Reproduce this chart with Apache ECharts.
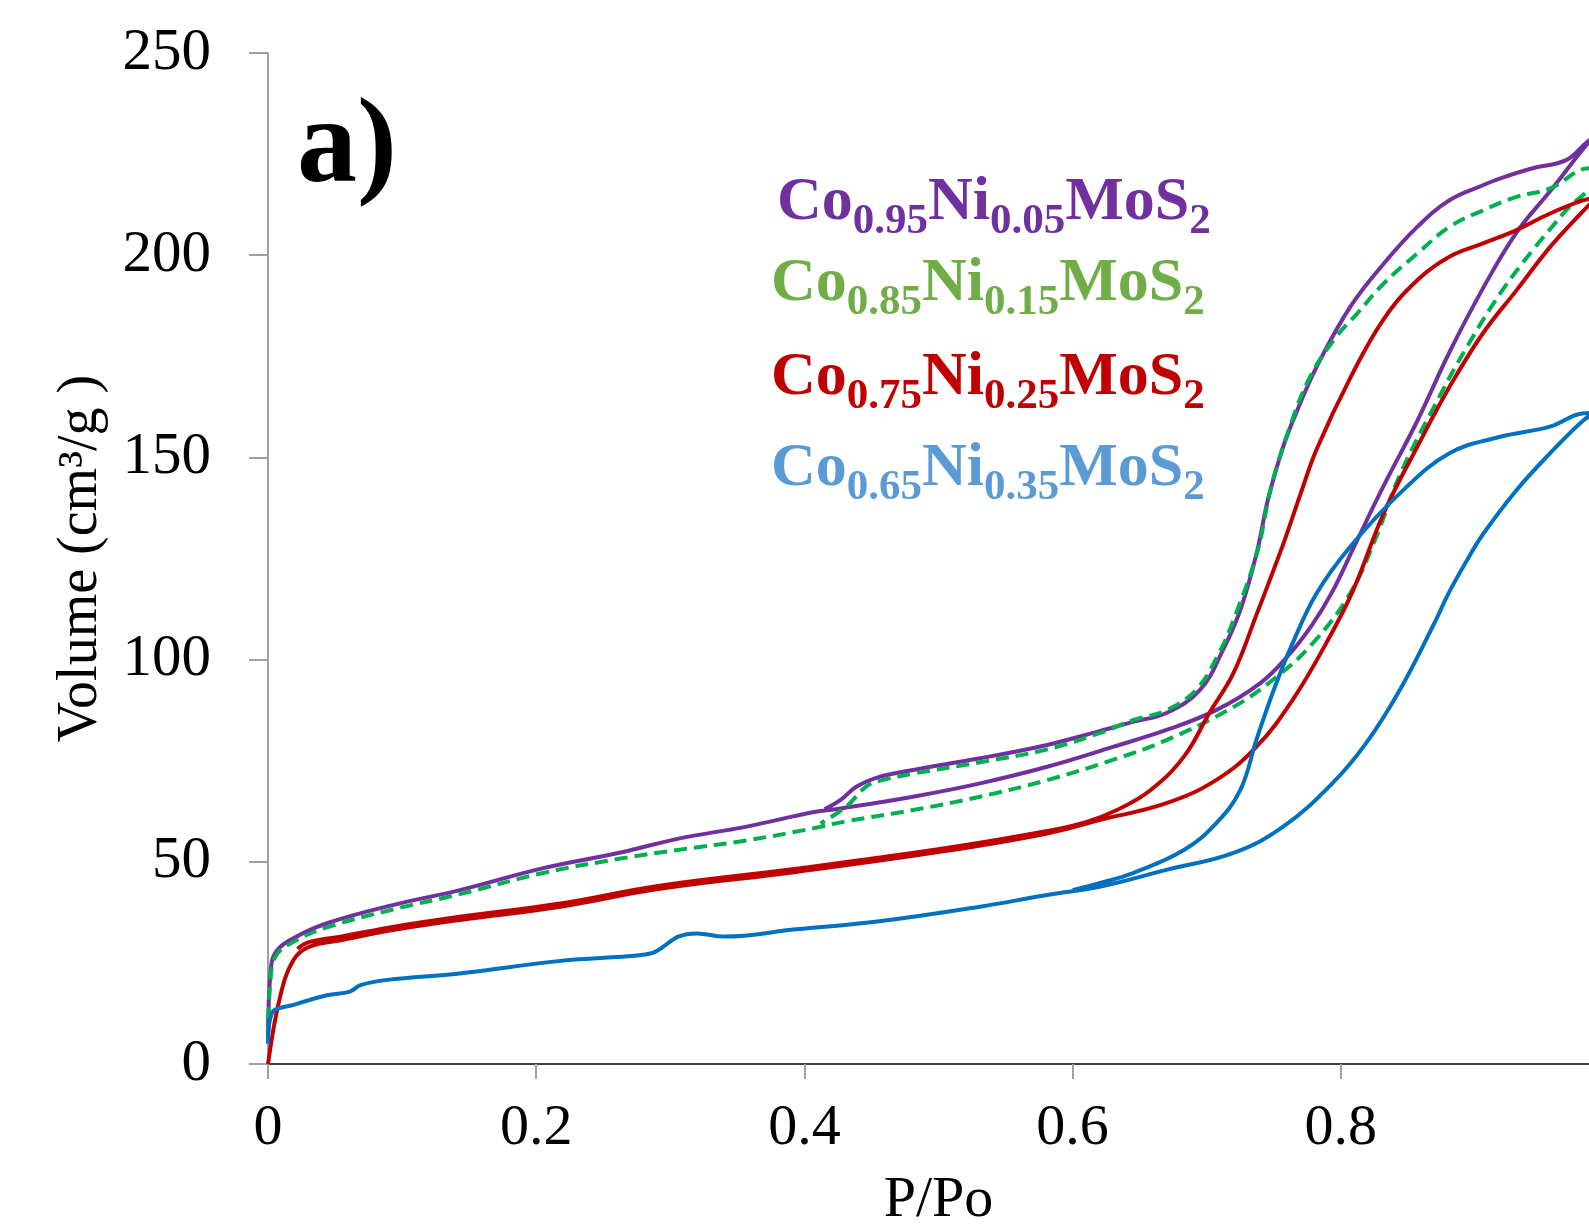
<!DOCTYPE html>
<html>
<head>
<meta charset="utf-8">
<title>isotherms</title>
<script src="https://cdn.jsdelivr.net/npm/echarts@6/dist/echarts.min.js"></script>
<style>
  html, body { margin: 0; padding: 0; background: #fff; overflow: hidden; }
  /* the original figure is cut off at the right edge, just past P/Po = 0.98 */
  #main { width: 1640px; height: 1225px; }
</style>
</head>
<body>
<div id="main"></div>
<script>
// axis ticks
var xTicks = [0, 0.2, 0.4, 0.6, 0.8, 1];
var yTicks = [0, 50, 100, 150, 200, 250];

var names = ['Co0.95Ni0.05MoS2', 'Co0.85Ni0.15MoS2', 'Co0.75Ni0.25MoS2', 'Co0.65Ni0.35MoS2'];

// Co0.95Ni0.05MoS2 (purple)
var purpleAds = [[0,7],[0.002,23],[0.006,27.8],[0.019,31.1],[0.044,34.8],[0.093,39.3],[0.143,43],[0.206,48.5],[0.263,52.3],[0.307,55.8],[0.357,58.7],[0.407,62.3],[0.427,63.2],[0.481,66.1],[0.531,69.4],[0.581,73.5],[0.630,78.4],[0.670,82.6],[0.707,87.5],[0.740,94.2],[0.760,100.7],[0.779,108.8],[0.794,117],[0.810,128],[0.832,143],[0.857,159],[0.881,176],[0.906,191.8],[0.931,205.6],[0.956,215.8],[0.983,227.2],[0.99,229.5]];
var purpleDes = [[0.983,227.8],[0.968,223.5],[0.943,221.5],[0.919,219],[0.906,217.3],[0.881,213.6],[0.857,207],[0.832,197.9],[0.807,187.2],[0.782,172.4],[0.768,162],[0.757,152.6],[0.746,140],[0.737,126],[0.725,112.2],[0.712,102.3],[0.695,92.5],[0.670,86.8],[0.645,84.6],[0.620,82.3],[0.581,78.9],[0.531,75.6],[0.481,72.7],[0.456,71],[0.439,68.6],[0.427,65.3],[0.415,63]];

// Co0.85Ni0.15MoS2 (green, dashed)
var greenAds = [[0,6],[0.002,21.5],[0.006,26.8],[0.019,30.2],[0.044,33.8],[0.093,38.2],[0.143,42],[0.206,47.3],[0.263,50.8],[0.307,53],[0.357,55.3],[0.407,58.3],[0.431,60],[0.481,62.8],[0.531,66.1],[0.581,70.2],[0.630,75.2],[0.670,80.1],[0.720,88.3],[0.752,95.7],[0.779,104],[0.807,116.4],[0.826,130],[0.844,145.6],[0.869,162.2],[0.894,177.3],[0.919,190.6],[0.943,201.2],[0.968,211.1],[0.99,219.5]];
var greenDes = [[0.985,221.5],[0.956,216.5],[0.931,214.4],[0.906,211.1],[0.881,207],[0.857,200.4],[0.832,193],[0.812,185.5],[0.797,180],[0.778,170.5],[0.763,158.5],[0.748,142.5],[0.738,127],[0.722,111.5],[0.709,101.5],[0.692,92.5],[0.670,87.5],[0.645,85],[0.620,81.8],[0.581,77.8],[0.531,74.6],[0.481,71.8],[0.456,70],[0.446,68.6],[0.431,63.6],[0.412,59.5]];

// Co0.75Ni0.25MoS2 (red)
var redAds = [[0,0],[0.009,16.6],[0.019,25.7],[0.031,29],[0.056,30.7],[0.093,33.1],[0.143,35.6],[0.218,38.9],[0.292,43.3],[0.394,47.5],[0.506,52.7],[0.581,57],[0.620,60.3],[0.670,64.5],[0.707,70.2],[0.737,78.4],[0.764,90],[0.789,104],[0.809,117],[0.832,136.2],[0.857,152.6],[0.881,167.4],[0.906,180.7],[0.931,191.3],[0.956,202],[0.981,211],[0.99,214]];
var redDes = [[0.981,213.6],[0.956,210.3],[0.931,206.2],[0.906,202.9],[0.881,199.6],[0.857,193.8],[0.832,184.2],[0.807,169.6],[0.782,152],[0.770,141],[0.757,128.5],[0.737,111],[0.720,96.7],[0.702,86.8],[0.683,76],[0.658,67.7],[0.633,62.8],[0.610,59.8],[0.581,57.6],[0.506,53.4],[0.394,48.3],[0.292,44.1],[0.218,39.7],[0.143,36.4],[0.093,33.9],[0.056,31.6],[0.031,30.2],[0.022,28.5]];

// Co0.65Ni0.35MoS2 (blue)
var blueAds = [[0,5],[0.003,12.6],[0.019,14.6],[0.044,17],[0.061,17.9],[0.069,19.5],[0.089,20.8],[0.143,22.4],[0.218,25.5],[0.277,26.9],[0.289,27.8],[0.306,31.5],[0.320,32.3],[0.340,31.5],[0.394,33.3],[0.456,35.3],[0.531,38.9],[0.581,41.8],[0.620,43.8],[0.670,48],[0.720,52.2],[0.757,58.7],[0.794,69.5],[0.819,79.4],[0.844,92.5],[0.869,108.5],[0.881,116.8],[0.894,124.5],[0.906,131],[0.931,141.9],[0.956,151],[0.981,159.2],[0.99,161]];
var blueDes = [[0.981,160.9],[0.956,157.6],[0.919,155.1],[0.881,151],[0.844,141.1],[0.807,127.9],[0.782,116.4],[0.764,104],[0.750,92.5],[0.737,80.1],[0.725,67.7],[0.707,59.5],[0.683,52.9],[0.645,47.2],[0.620,44.7],[0.600,43]];

var serif = 'Liberation Serif';

// rich text label: Co{a}Ni{b}MoS{2}
function formula(a, b) {
    return '{m|Co}{s|' + a + '}{m|Ni}{s|' + b + '}{m|MoS}{s|2}';
}
function legendText(top, left, a, b, color) {
    return {
        type: 'text',
        left: left,
        top: top,
        style: {
            text: formula(a, b),
            fill: color,
            rich: {
                m: { fontFamily: serif, fontWeight: 'bold', fontSize: 62, fill: color, verticalAlign: 'top' },
                s: { fontFamily: serif, fontWeight: 'bold', fontSize: 43, fill: color, verticalAlign: 'top', padding: [28, 0, 0, 0] }
            }
        }
    };
}

var chart = echarts.init(document.getElementById('main'));
chart.setOption({
    animation: false,
    backgroundColor: '#fff',
    grid: { left: 268, right: 31, top: 53, bottom: 161, outerBoundsMode: 'none', containLabel: false },
    xAxis: [{
        type: 'value',
        min: 0, max: 1, interval: 0.2,
        name: 'P/Po',
        nameLocation: 'middle',
        nameGap: 108,
        nameTextStyle: { fontFamily: serif, fontSize: 58, color: '#000' },
        axisLine: { show: true, onZero: false, lineStyle: { color: '#a0a0a0', width: 2 } },
        axisTick: { show: true, length: 15, lineStyle: { color: '#a0a0a0', width: 2 } },
        axisLabel: { fontFamily: serif, fontSize: 58, color: '#000', margin: 36,
            customValues: xTicks },
        splitLine: { show: false }
    }, {
        type: 'value',
        position: 'top',
        min: 0, max: 1,
        axisLine: { show: true, lineStyle: { color: '#404040', width: 2 } },
        axisTick: { show: false },
        axisLabel: { show: false },
        splitLine: { show: false }
    }],
    yAxis: {
        type: 'value',
        min: 0, max: 250, interval: 50,
        name: 'Volume (cm³/g )',
        nameLocation: 'middle',
        nameGap: 159,
        nameTextStyle: { fontFamily: serif, fontSize: 56, color: '#000' },
        axisLine: { show: true, lineStyle: { color: '#a0a0a0', width: 2 } },
        axisTick: { show: true, length: 19, lineStyle: { color: '#a0a0a0', width: 2 } },
        axisLabel: { fontFamily: serif, fontSize: 59, color: '#000', margin: 57,
            customValues: yTicks },
        splitLine: { show: false }
    },
    graphic: [
        { type: 'text', left: 297, top: 90,
          style: { text: 'a)', fontFamily: serif, fontWeight: 'bold', fontSize: 120, fill: '#000' } },
        legendText(172, 777, '0.95', '0.05', '#7030A0'),
        legendText(253, 771, '0.85', '0.15', '#70AD47'),
        legendText(347, 771, '0.75', '0.25', '#C00000'),
        legendText(438, 771, '0.65', '0.35', '#5B9BD5')
    ],
    series: [
        { name: names[0], type: 'line', smooth: 0.4, showSymbol: false,
          lineStyle: { color: '#7030A0', width: 4 },
          data: purpleAds.concat(purpleDes) },
        { name: names[1], type: 'line', smooth: 0.4, showSymbol: false,
          lineStyle: { color: '#00B050', width: 4, type: [13, 7] },
          data: greenAds.concat(greenDes) },
        { name: names[2], type: 'line', smooth: 0.4, showSymbol: false,
          lineStyle: { color: '#C00000', width: 4 },
          data: redAds.concat(redDes) },
        { name: names[3], type: 'line', smooth: 0.4, showSymbol: false,
          lineStyle: { color: '#0070C0', width: 4 },
          data: blueAds.concat(blueDes) }
    ]
});
</script>
</body>
</html>
